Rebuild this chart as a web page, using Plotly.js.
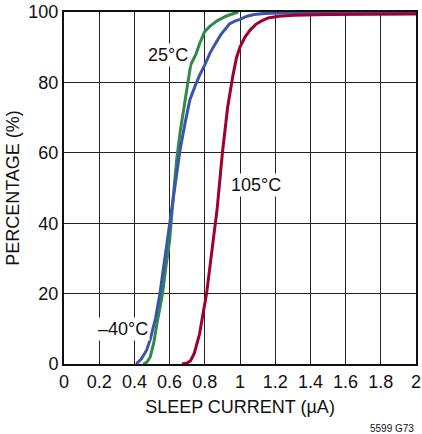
<!DOCTYPE html>
<html>
<head>
<meta charset="utf-8">
<script src="https://cdn.plot.ly/plotly-3.0.1.min.js"></script>
<style>html,body{margin:0;padding:0;background:#fff;}#chart{width:422px;height:434px;}</style>
</head>
<body>
<div id="chart"></div>
<script>
// -40°C series
const xMinus40 = [0.41,0.44,0.47,0.49,0.52,0.545,0.57,0.60,0.62,0.66,0.69,0.715,0.745,0.77,0.80,0.83,0.86,0.89,0.94,0.97,1.00,1.04,1.08,1.14,1.22,1.5,2.0];
const yMinus40 = [0,1.5,4,7,13,20,29,40,47,61,69,75,79,82,85,88.4,91,93.5,96.6,97.4,97.9,98.8,99.3,99.6,99.7,99.7,99.7];
// 25°C series
const x25 = [0.45,0.47,0.49,0.51,0.53,0.56,0.58,0.60,0.62,0.64,0.66,0.68,0.70,0.72,0.75,0.77,0.80,0.83,0.87,0.92,0.96,0.99];
const y25 = [0,0.5,2,6,12,20,28,35,47,58,66,72,78,85,88,91,94.5,96,97.5,98.8,99.5,100];
// 105°C series
const x105 = [0.67,0.70,0.72,0.74,0.77,0.79,0.81,0.84,0.87,0.90,0.93,0.96,0.98,1.00,1.03,1.06,1.09,1.12,1.16,1.22,1.31,1.5,2.0];
const y105 = [0,0.3,1,3,8.5,14,20,32,44,60,73,82,87,90,93,95,96.5,97.4,98.3,98.8,99.1,99.3,99.4];

const xTickVals = [0,0.2,0.4,0.6,0.8,1,1.2,1.4,1.6,1.8,2];
const xTickText = ["0","0.2","0.4","0.6","0.8","1","1.2","1.4","1.6","1.8","2"];
const yTickVals = [0,20,40,60,80,100];

const labelText = ["25°C","105°C","\u201340°C"];
const labelX = [0.593,1.093,0.336];
const labelY = [87.9,50.9,10];

const FONT = "'Liberation Sans',Arial,sans-serif";

const traces = [
  {x:x25, y:y25, mode:'lines', line:{color:'#2f8a4c', width:3}, name:'25°C'},
  {x:xMinus40, y:yMinus40, mode:'lines', line:{color:'#3b55ad', width:3}, name:'-40°C'},
  {x:x105, y:y105, mode:'lines', line:{color:'#a0002f', width:3}, name:'105°C'}
];

const annotations = labelText.map((t,i)=>({
  x:labelX[i], y:labelY[i], xref:'x', yref:'y', text:t, showarrow:false,
  font:{family:FONT, size:18, color:'#111'}, bgcolor:'#fff', borderpad:1
}));
annotations.push({x:1, y:-0.163, xref:'paper', yref:'paper', xanchor:'right', yanchor:'top',
  text:'5599 G73', showarrow:false, font:{family:FONT, size:10, color:'#111'}});

const layout = {
  width:422, height:434,
  margin:{l:64, r:6, t:12, b:70},
  paper_bgcolor:'#fff', plot_bgcolor:'#fff',
  showlegend:false,
  font:{family:FONT, size:18, color:'#111'},
  xaxis:{range:[0,2], tickvals:xTickVals, ticktext:xTickText, showgrid:true, gridcolor:'#222', gridwidth:1,
    showline:true, mirror:true, linecolor:'#111', linewidth:2, zeroline:false, ticks:'',
    title:{text:'SLEEP CURRENT (\u00b5A)', font:{family:FONT, size:18}, standoff:10}},
  yaxis:{range:[0,100], tickvals:yTickVals, showgrid:true, gridcolor:'#222', gridwidth:1,
    showline:true, mirror:true, linecolor:'#111', linewidth:2, zeroline:false, ticks:'',
    title:{text:'PERCENTAGE (%)', font:{family:FONT, size:18}, standoff:4}},
  annotations:annotations
};

Plotly.newPlot('chart', traces, layout, {staticPlot:true, displayModeBar:false});
</script>
</body>
</html>
